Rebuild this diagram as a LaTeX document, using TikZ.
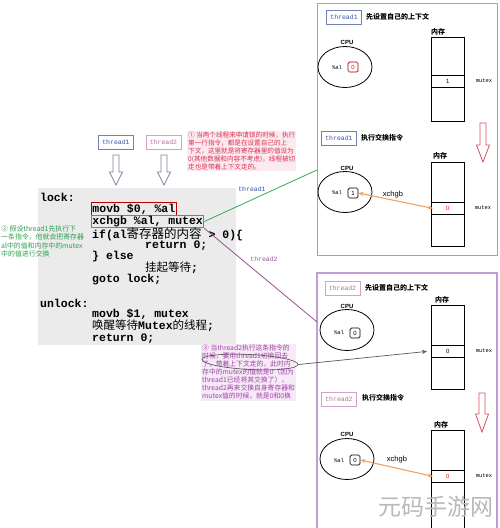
\documentclass[tikz,border=0pt]{standalone}
\usepackage{fontspec}
\setmainfont{Liberation Sans}
\newfontfamily\cjk{Noto Sans CJK SC}
\newfontfamily\codef{Liberation Mono}
\usetikzlibrary{arrows.meta,shapes.geometric}
\definecolor{gpanel}{HTML}{70C48C}
\definecolor{gline}{HTML}{38A85A}
\definecolor{ppanel}{HTML}{C49CD2}
\definecolor{pline}{HTML}{9A5090}
\definecolor{tblue}{HTML}{3A50A0}
\definecolor{tbord}{HTML}{7080B0}
\definecolor{tpink}{HTML}{B07098}
\definecolor{pbord}{HTML}{D8A0C8}
\definecolor{redtxt}{HTML}{E0304E}
\definecolor{redbg}{HTML}{FBEAF0}
\definecolor{purtxt}{HTML}{A040A8}
\definecolor{purbg}{HTML}{F6EAF6}
\definecolor{grntxt}{HTML}{2EA050}
\definecolor{codebg}{HTML}{EBEBEB}
\definecolor{orng}{HTML}{F0A060}
\definecolor{harrow}{HTML}{8080A0}
\definecolor{rarrow}{HTML}{D85060}
\tikzset{
  txt/.style={inner sep=0pt, anchor=west},
  code/.style={txt, font=\codef\bfseries\fontsize{11.5}{12}\selectfont},
  tbox/.style={draw=tbord, fill=white, line width=0.8pt, minimum width=35pt, minimum height=14pt, inner sep=0pt, font=\codef\fontsize{6.5}{7}\selectfont, text=tblue},
  tboxp/.style={tbox, draw=pbord, text=tpink},
  title/.style={txt, font=\cjk\bfseries\fontsize{7}{8}\selectfont},
  cpulbl/.style={inner sep=0pt, font=\bfseries\fontsize{6}{7}\selectfont},
  cpu/.style={draw, ellipse, line width=0.8pt, minimum width=54pt, minimum height=41pt, inner sep=0pt},
  reg/.style={draw, rounded corners=1.5pt, line width=0.7pt, minimum width=10pt, minimum height=10pt, inner sep=0pt, font=\fontsize{6}{7}\selectfont},
  al/.style={inner sep=0pt, font=\codef\fontsize{5.5}{6}\selectfont},
  mem/.style={draw, line width=0.8pt, minimum width=33pt, minimum height=84pt, inner sep=0pt},
  cell/.style={draw, line width=0.8pt, minimum width=33pt, minimum height=12pt, inner sep=0pt, font=\fontsize{6}{7}\selectfont},
  memlbl/.style={inner sep=0pt, font=\cjk\bfseries\fontsize{7}{8}\selectfont},
  mutexlbl/.style={inner sep=0pt, font=\codef\fontsize{5.5}{6}\selectfont},
  xarrow/.style={orng, line width=1.1pt, {Stealth[length=5pt,width=4pt]}-{Stealth[length=5pt,width=4pt]}},
  xlbl/.style={inner sep=0pt, font=\fontsize{7.5}{8}\selectfont},
  note/.style={inner sep=1pt, anchor=north west, align=left, font=\cjk\fontsize{6.6}{8}\selectfont},
  pics/hollow/.style args={#1/#2/#3}{code={
    \draw[#3, line width=0.8pt, fill=white] (-3,0) -- (-3,#1) -- (-6.5,#1) -- (0,#2) -- (6.5,#1) -- (3,#1) -- (3,0) -- cycle;}}
}
\begin{document}
\begin{tikzpicture}[x=1pt,y=-1pt]
\useasboundingbox (0,0) rectangle (500,528);
\fill[white] (0,0) rectangle (500,528);

% ---------------- code box ----------------
\node[fill=codebg, minimum width=198pt, minimum height=157pt, anchor=north west, inner sep=0pt] (codebox) at (38,188) {};
\node[code] (lock) at (40,197) {lock:};
\node[code, draw=red!75!black, line width=0.9pt, inner sep=1pt] (c1) at (91,209) {movb \$0, \%al};
\node[code, draw=gline, line width=0.9pt, inner sep=1pt] (c2) at (91,221.5) {xchgb \%al, mutex};
\node[code] (c3) at (92,234) {if(al{\cjk\mdseries\fontsize{12.5}{13}\selectfont 寄存器的内容} > 0)\{};
\node[code] (c4) at (145,246) {return 0;};
\node[code] (c5) at (92,257) {\} else};
\node[code] (c6) at (145,268) {{\cjk\mdseries\fontsize{11.5}{12}\selectfont 挂起等待};};
\node[code] (c7) at (92,280) {goto lock;};
\node[code] (unlock) at (40,303) {unlock:};
\node[code] (c8) at (92,314) {movb \$1, mutex};
\node[code] (c9) at (92,326) {{\cjk\mdseries\fontsize{11.5}{12}\selectfont 唤醒等待}Mutex{\cjk\mdseries\fontsize{11.5}{12}\selectfont 的线程};};
\node[code] (c10) at (92,339) {return 0;};

% ---------------- thread boxes and arrows ----------------
\node[tbox] (th1) at (116,142.5) {thread1};
\node[tboxp] (th2) at (163.5,142.5) {thread2};
\pic at (116,155) {hollow=17/30/harrow};
\pic at (164,155) {hollow=17/30/harrow};

% ---------------- annotations ----------------
\node[note, fill=redbg, text=redtxt] (n1) at (187,131) {① 当两个线程来申请锁的时候，执行\\第一行指令，都是在设置自己的上\\下文，这里就是将寄存器里的值设为\\0(其他数据和内容不考虑)，线程被切\\走也是带着上下文走的。};
\node[note, text=grntxt, font=\cjk\fontsize{6.9}{8.5}\selectfont] (n2) at (0,224) {② 假设thread1先执行下\\一条指令，他就会把寄存器\\al中的值和内存中的mutex\\中的值进行交换};
\node[note, fill=purbg, text=purtxt, font=\cjk\fontsize{6.8}{8}\selectfont] (n3) at (201,344) {③ 当thread2执行这条指令的\\时候，要用thread1切换回去\\了，带着上下文走的，此时内\\存中的mutex的值就是0（因为\\thread1已经将其交换了），\\thread2再来交换自身寄存器和\\mutex值的时候，就是0和0换};

% ---------------- green panel (thread1) ----------------
\node[draw=gpanel, line width=1.2pt, minimum width=180pt, minimum height=252pt, anchor=north west, inner sep=0pt] (gp) at (317,3) {};
\node[tbox] (t1a) at (344,17) {thread1};
\node[title] (t1at) at (366,17) {先设置自己的上下文};
\node[cpulbl] (cpu1l) at (347,42) {CPU};
\node[cpu] (cpu1) at (345,67) {};
\node[al] (al1) at (337,68) {\%al};
\node[reg, draw=red!60!black, text=red] (r1) at (353,67) {0};
\node[memlbl] (m1l) at (438,32) {内存};
\node[mem, anchor=north west] (m1) at (431,37) {};
\node[cell, anchor=north west] (k1) at (431,75) {1};
\node[mutexlbl] (mx1) at (484,81) {mutex};
\pic at (483,123) {hollow=22/39/rarrow};

\node[tbox] (t1b) at (339,138) {thread1};
\node[title] (t1bt) at (361,138) {执行交换指令};
\node[cpulbl] (cpu2l) at (347,168) {CPU};
\node[cpu] (cpu2) at (345,192) {};
\node[al] (al2) at (337,193) {\%al};
\node[reg] (r2) at (353,193) {1};
\node[memlbl] (m2l) at (440,156) {内存};
\node[mem, anchor=north west] (m2) at (431,162) {};
\node[cell, anchor=north west, text=red] (k2) at (431,202) {0};
\node[mutexlbl] (mx2) at (483,208) {mutex};
\draw[xarrow] (r2.east) -- ([xshift=2pt]k2.west);
\node[xlbl] (x1) at (393,195) {xchgb};

% ---------------- purple panel (thread2) ----------------
\draw[ppanel, line width=1.2pt] (317,530) -- (317,273) -- (497,273) -- (497,530);
\coordinate (pp) at (317,322);
\node[tboxp] (t2a) at (342.5,288) {thread2};
\node[title] (t2at) at (365,288) {先设置自己的上下文};
\node[cpulbl] (cpu3l) at (347,306) {CPU};
\node[cpu] (cpu3) at (347,330) {};
\node[al] (al3) at (339,333) {\%al};
\node[reg] (r3) at (355,333) {0};
\node[memlbl] (m3l) at (442,300) {内存};
\node[mem, anchor=north west] (m3) at (431,305) {};
\node[cell, anchor=north west] (k3) at (431,345) {0};
\node[mutexlbl] (mx3) at (484,351) {mutex};
\pic at (482,393) {hollow=21/39/rarrow};

\node[tboxp] (t2b) at (339,399) {thread2};
\node[title] (t2bt) at (362,398) {执行交换指令};
\node[cpulbl] (cpu4l) at (347,434) {CPU};
\node[cpu] (cpu4) at (347,459) {};
\node[al] (al4) at (339,461) {\%al};
\node[reg] (r4) at (355,460) {0};
\node[memlbl] (m4l) at (441,425) {内存};
\node[mem, anchor=north west, minimum height=100pt] (m4) at (431,430) {};
\node[cell, anchor=north west, text=red] (k4) at (431,470) {0};
\node[mutexlbl] (mx4) at (484,476) {mutex};
\draw[xarrow] (r4.east) -- ([xshift=2pt]k4.west);
\node[xlbl] (x2) at (397,460) {xchgb};

% ---------------- connectors ----------------
\coordinate (gp1) at (317,170);
\draw[gline, line width=0.8pt] (c2.east) -- (gp1);
\node[inner sep=0pt, text=tblue, font=\codef\fontsize{6.5}{7}\selectfont] (lbl1) at (252,189) {thread1};
\draw[pline, line width=0.8pt] (c2.south east) -- (pp);
\node[inner sep=0pt, text=pline, font=\codef\fontsize{6.5}{7}\selectfont] (lbl2) at (264,259) {thread2};

\node[draw=gray!60!black, ellipse, line width=0.6pt, minimum width=96pt, minimum height=15pt, inner sep=0pt, rotate=-3] (oval) at (250,362) {};
\draw[gray!70!black, line width=0.7pt, -{Stealth[length=5pt,width=4pt]}] (oval.east) -- ([xshift=-4pt]k3.west);

% ---------------- watermark ----------------
\node[inner sep=0pt, text=gray!55, font=\cjk\fontsize{23}{25}\selectfont] (wm) at (436,507) {元码手游网};
\end{tikzpicture}
\end{document}
